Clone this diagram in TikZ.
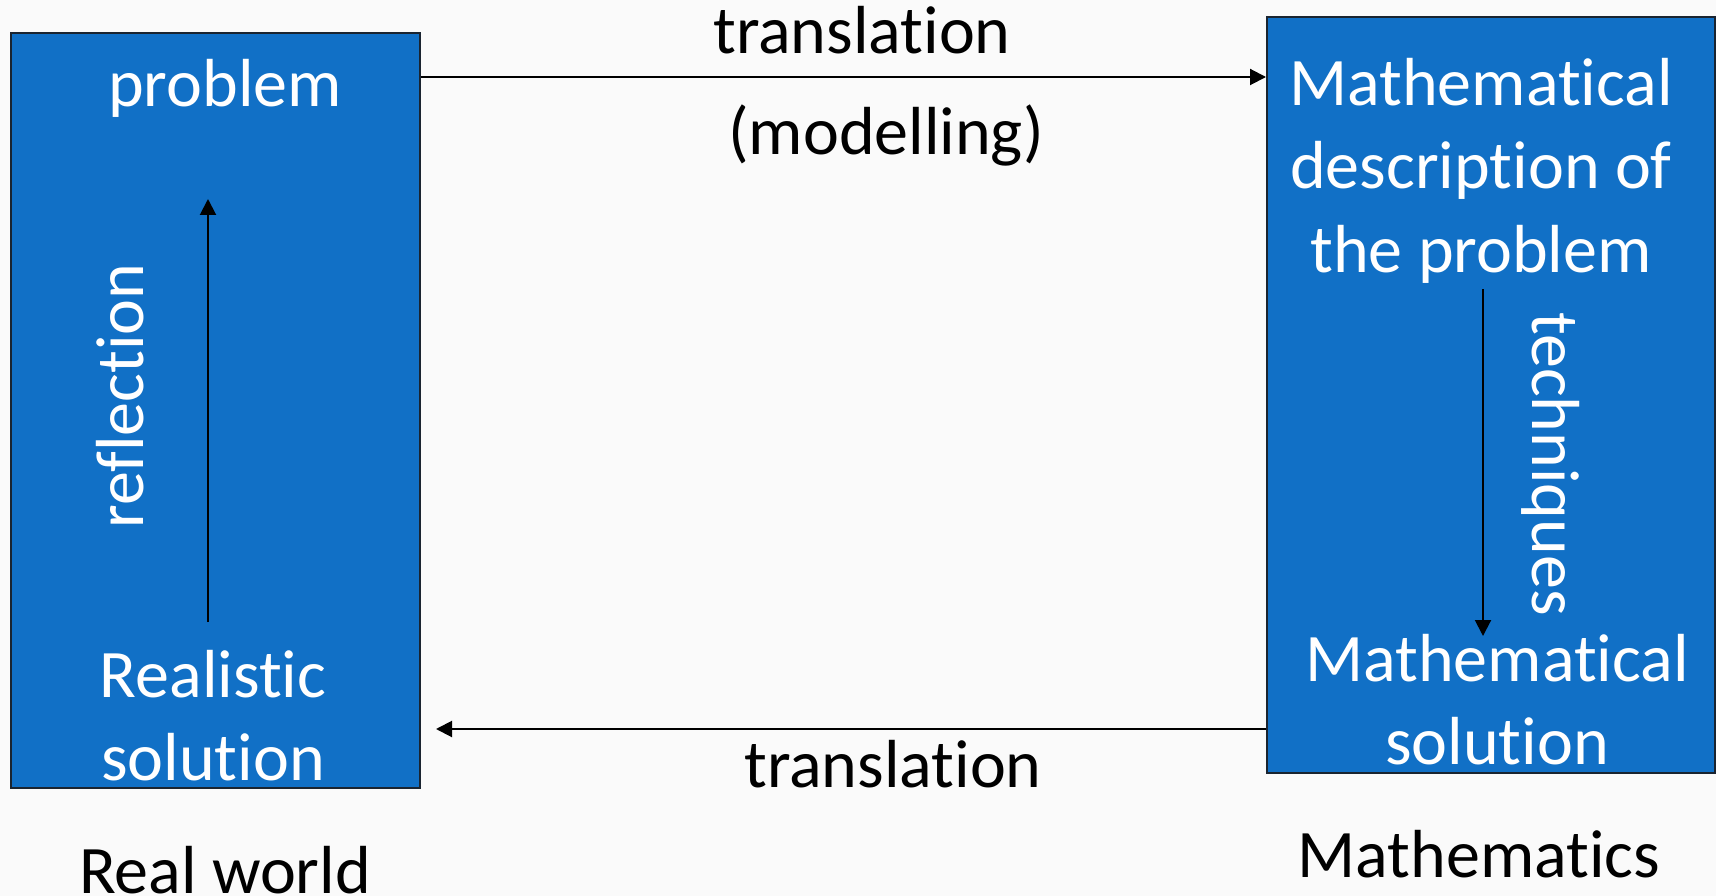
\documentclass[tikz,border=0pt]{standalone}
\usepackage{fontspec}
\setmainfont{Carlito}[Ligatures=NoCommon]
\usetikzlibrary{arrows.meta}
\definecolor{boxblue}{HTML}{1170C6}
\definecolor{boxedge}{HTML}{1A2430}
\definecolor{paper}{HTML}{FAFAFA}
\tikzset{
  panel/.style={draw=boxedge, line width=2pt, fill=boxblue, inner sep=0pt},
  intext/.style={text=white, inner sep=0pt, anchor=base, align=center,
    font=\fontsize{68}{83}\selectfont},
  outtext/.style={text=black, inner sep=0pt, anchor=base, align=center,
    font=\fontsize{68}{83}\selectfont},
  link/.style={draw=black, line width=2pt, -{Triangle[length=16pt, width=16pt]}}
}
\begin{document}
\begin{tikzpicture}[x=1pt, y=-1pt]
  % page and background
  \fill[paper] (0,0) rectangle (1716,896);
  \useasboundingbox (0,0) rectangle (1716,896);

  % the two panels
  \node[panel, minimum width=409pt, minimum height=755pt] (real) at (215.5,410.5) {};
  \node[panel, minimum width=448pt, minimum height=756pt] (math) at (1491,395) {};

  % texts inside the panels (multi-line nodes sit on their last baseline)
  \node[intext] (prob) at (225,107) {problem};
  \node[intext] (desc) at (1481,272) {Mathematical\\description of\\the problem};
  \node[intext] (msol) at (1497,764) {Mathematical\\solution};
  \node[intext] (rsol) at (213,780) {Realistic\\solution};
  \node[intext, rotate=90] (refl) at (143,396) {reflection};
  \node[intext, rotate=-90] (tech) at (1532,464) {techniques};

  % labels outside
  \node[outtext] (trtop) at (862,54) {translation};
  \node[outtext] (model) at (886,155) {(modelling)};
  \node[outtext] (trbot) at (893,787) {translation};
  \node[outtext] (rw) at (225,893) {Real world};
  \node[outtext] (mt) at (1479,877) {Mathematics};

  % arrow end points inside the panels
  \coordinate (reflfrom) at (208,622);
  \coordinate (reflto) at (208,199);
  \coordinate (techfrom) at (1483,289);
  \coordinate (techto) at (1483,636);

  % connectors
  \draw[link] ([yshift=-45pt]real.north east) -- ([yshift=-61pt]math.north west);
  \draw[link] ([yshift=45pt]math.south west) -- ([xshift=15pt, yshift=60pt]real.south east);
  \draw[link] (reflfrom) -- (reflto);
  \draw[link] (techfrom) -- (techto);
\end{tikzpicture}
\end{document}
